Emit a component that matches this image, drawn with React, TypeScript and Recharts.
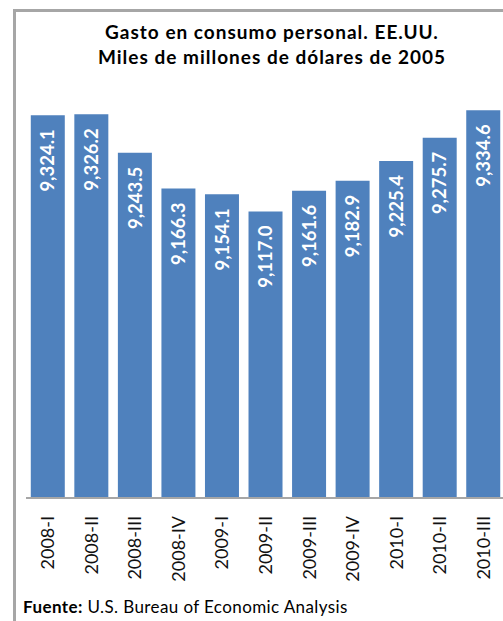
import { BarChart, Bar, XAxis, YAxis, LabelList } from 'recharts';

const quarters = ['2008-I', '2008-II', '2008-III', '2008-IV', '2009-I', '2009-II', '2009-III', '2009-IV', '2010-I', '2010-II', '2010-III'];
const gasto = [9324.1, 9326.2, 9243.5, 9166.3, 9154.1, 9117.0, 9161.6, 9182.9, 9225.4, 9275.7, 9334.6];
const yDomain = [8500, 9400];

const data = quarters.map((q, i) => ({ q, gasto: gasto[i] }));

const FONT = 'Lato, "Open Sans", sans-serif';
const BLUE = '#4F81BD';
const GRAY = '#A6A6A6';

const fmt = (v: number) =>
  v.toLocaleString('en-US', { minimumFractionDigits: 1, maximumFractionDigits: 1 });

function QuarterTick(props: any) {
  const { x, y, payload } = props;
  return (
    <text
      x={x}
      y={y}
      transform={`rotate(-90, ${x}, ${y})`}
      textAnchor="end"
      dy="0.36em"
      fontFamily={FONT}
      fontSize={18}
      fill="#111"
    >
      {payload.value}
    </text>
  );
}

function ValueLabel(props: any) {
  const { x, y, width, value } = props;
  const cx = x + width / 2;
  const ty = y + 14;
  return (
    <text
      x={cx}
      y={ty}
      transform={`rotate(-90, ${cx}, ${ty})`}
      textAnchor="end"
      dy="0.36em"
      fontFamily={FONT}
      fontWeight="bold"
      fontSize={18.5}
      fill="#fff"
    >
      {fmt(value)}
    </text>
  );
}

export default function App() {
  return (
    <div style={{ position: 'absolute', left: 0, top: 0, width: 503, height: 621, overflow: 'hidden', background: '#fff', fontFamily: FONT }}>
      <div style={{ position: 'absolute', left: 13, top: 9, width: 600, height: 700, borderLeft: `3px solid ${GRAY}`, borderTop: `3px solid ${GRAY}` }} />
      <div style={{ position: 'absolute', left: 0, top: 19, width: 544, textAlign: 'center', fontWeight: 'bold', fontSize: 19, letterSpacing: 1, lineHeight: '25px', color: '#000' }}>
        <div>Gasto en consumo personal. EE.UU.</div>
        <div>Miles de millones de dólares de 2005</div>
      </div>
      <div style={{ position: 'absolute', left: 0, top: 0 }}>
        <BarChart width={510} height={600} data={data} margin={{ top: 80, right: 5, bottom: 0, left: 26 }} barCategoryGap="11%">
          <YAxis hide domain={yDomain} type="number" allowDataOverflow />
          <XAxis
            dataKey="q"
            height={102}
            interval={0}
            tickLine={false}
            axisLine={{ stroke: GRAY, strokeWidth: 2 }}
            tick={<QuarterTick />}
            tickMargin={12}
          />
          <Bar dataKey="gasto" fill={BLUE} isAnimationActive={false}>
            <LabelList dataKey="gasto" content={<ValueLabel />} />
          </Bar>
        </BarChart>
      </div>
      <div style={{ position: 'absolute', left: 23, top: 597, fontSize: 17, letterSpacing: 0.4, lineHeight: '20px', color: '#000', whiteSpace: 'nowrap' }}>
        <b>Fuente:</b> U.S. Bureau of Economic Analysis
      </div>
    </div>
  );
}
